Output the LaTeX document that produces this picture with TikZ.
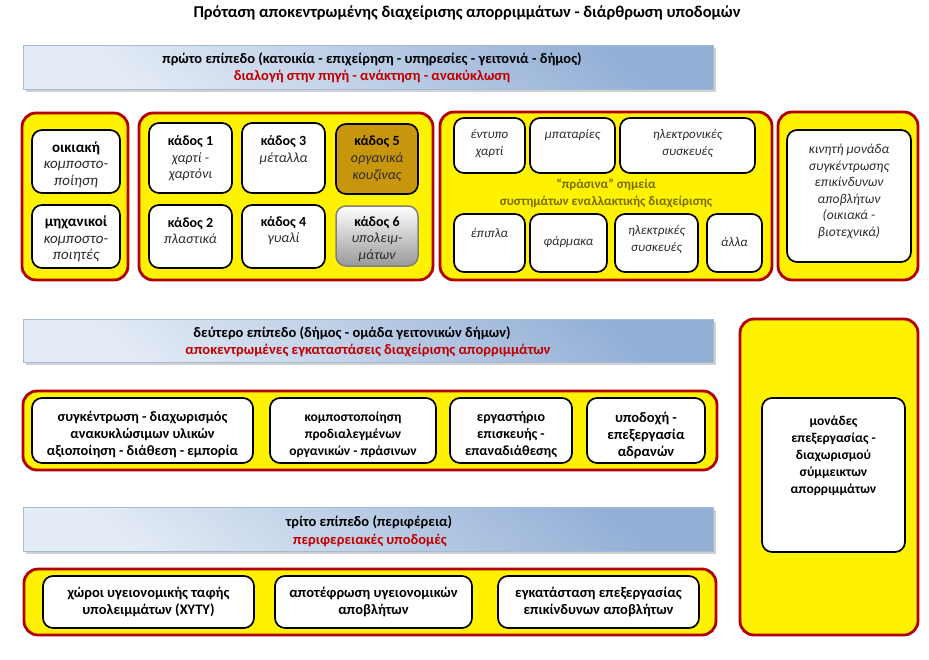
\documentclass[tikz,border=0pt]{standalone}
\usepackage{fontspec}
\setmainfont{Carlito}
\usetikzlibrary{shadows}
\definecolor{grpred}{HTML}{B00000}
\definecolor{txtred}{HTML}{C00000}
\definecolor{hdrdark}{HTML}{93AFD6}
\definecolor{hdrlight}{HTML}{E4ECF6}
\definecolor{hdrline}{HTML}{A6BAD6}
\definecolor{olivetxt}{HTML}{7A6C00}
\definecolor{kadosfive}{HTML}{C8960C}
\definecolor{itxt}{HTML}{2A2A2A}
\newcommand{\mkbox}[6]{\node[#1, minimum width={#5-#3}, minimum height={#6-#4}] (#2) at ({(#3+#5)/2},{(#4+#6)/2}) {};}
\newcommand{\ii}[1]{\textit{\color{itxt}#1}}
\begin{document}
\begin{tikzpicture}[x=1pt,y=-1pt,
  grp/.style={draw=grpred, fill=yellow, line width=2.8pt, rounded corners=14pt, inner sep=0pt},
  ibox/.style={draw=black, fill=white, line width=1.7pt, rounded corners=10pt, inner sep=0pt},
  kfive/.style={ibox, fill=kadosfive},
  ksix/.style={ibox, draw=black!50, top color=white, bottom color=black!40, line width=1.5pt},
  hdr/.style={draw=hdrline, line width=0.6pt, top color=hdrdark, bottom color=hdrlight, shading angle=-40, inner sep=0pt,
     drop shadow={shadow xshift=2.5pt, shadow yshift=-2.5pt, fill=black!40, opacity=0.45}},
  txt/.style={align=center, inner sep=0pt, font=\fontsize{#1}{16.6}\selectfont},
  txt/.default=13,
  btxt/.style={align=center, inner sep=0pt, font=\fontsize{#1}{17}\selectfont\bfseries},
  btxt/.default=13,
  htxt/.style={inner sep=0pt, font=\fontsize{14.5}{17}\selectfont\bfseries},
  it/.style={align=center, inner sep=0pt, font=\fontsize{#1}{16.6}\selectfont\itshape, text=itxt},
  it/.default=13,
]
\useasboundingbox (0,0) rectangle (929,659);
\fill[white] (0,0) rectangle (929,659);

% title
\node[inner sep=0pt, font=\fontsize{16.5}{19}\selectfont\bfseries] (title) at (467,13) {Πρόταση αποκεντρωμένης διαχείρισης απορριμμάτων - διάρθρωση υποδομών};

% ---------- level 1 ----------
\mkbox{hdr}{h1}{23}{45}{713}{89}
\node[htxt] (h1a) at (372,59) {πρώτο επίπεδο (κατοικία - επιχείρηση - υπηρεσίες - γειτονιά - δήμος)};
\node[htxt, text=txtred] (h1b) at (372,76) {διαλογή στην πηγή - ανάκτηση - ανακύκλωση};

\mkbox{grp}{gA}{22}{113}{128}{280}
\mkbox{grp}{gB}{139}{113}{433}{280}
\mkbox{grp}{gC}{440}{112}{772}{280}
\mkbox{grp}{gD}{778}{112}{918}{280}

% group A
\mkbox{ibox}{a1}{32}{130}{120}{193}
\mkbox{ibox}{a2}{32}{205}{120}{268}
\node[txt=15] (ta1) at (76,164.5) {\textbf{οικιακή}\\\ii{κομποστο-}\\\ii{ποίηση}};
\node[txt=15] (ta2) at (76,239) {\textbf{μηχανικοί}\\\ii{κομποστο-}\\\ii{ποιητές}};

% group B
\mkbox{ibox}{k1}{149}{123}{232}{193}
\mkbox{ibox}{k3}{242}{123}{325}{193}
\mkbox{kfive}{k5}{336}{124}{418}{194}
\mkbox{ibox}{k2}{149}{205}{232}{268}
\mkbox{ibox}{k4}{242}{205}{325}{268}
\mkbox{ksix}{k6}{336}{206}{418}{266}
\node[txt=14] (tk1) at (190.5,158.5) {\textbf{κάδος 1}\\\ii{χαρτί -}\\\ii{χαρτόνι}};
\node[txt=14] (tk3) at (283.5,150) {\textbf{κάδος 3}\\\ii{μέταλλα}};
\node[txt=14] (tk5) at (377,158.5) {\textbf{κάδος 5}\\\ii{οργανικά}\\\ii{κουζίνας}};
\node[txt=14] (tk2) at (190.5,230.5) {\textbf{κάδος 2}\\\ii{πλαστικά}};
\node[txt=14] (tk4) at (283.5,230.5) {\textbf{κάδος 4}\\\ii{γυαλί}};
\node[txt=14] (tk6) at (377,239) {\textbf{κάδος 6}\\\ii{υπολειμ-}\\\ii{μάτων}};

% group C
\mkbox{ibox}{c1}{454}{118}{525}{173}
\mkbox{ibox}{c2}{530}{118}{615}{173}
\mkbox{ibox}{c3}{620}{118}{755}{173}
\mkbox{ibox}{c4}{454}{214}{525}{272}
\mkbox{ibox}{c5}{530}{214}{607}{272}
\mkbox{ibox}{c6}{615}{214}{698}{272}
\mkbox{ibox}{c7}{707}{214}{762}{272}
\node[it] (tc1) at (489.5,143.5) {έντυπο\\χαρτί};
\node[it] (tc2) at (572.5,135) {μπαταρίες};
\node[it] (tc3) at (687.5,143.5) {ηλεκτρονικές\\συσκευές};
\node[btxt, text=olivetxt] (tcm) at (606,193.5) {“πράσινα” σημεία\\συστημάτων εναλλακτικής διαχείρισης};
\node[it] (tc4) at (489.5,233) {έπιπλα};
\node[it] (tc5) at (568.5,242) {φάρμακα};
\node[it] (tc6) at (656.5,239.5) {ηλεκτρικές\\συσκευές};
\node[it] (tc7) at (734.5,242) {άλλα};

% group D
\mkbox{ibox}{d1}{787}{130}{911}{262}
\node[it=13.5] (td1) at (849,191.5) {κινητή μονάδα\\συγκέντρωσης\\επικίνδυνων\\αποβλήτων\\(οικιακά -\\βιοτεχνικά)};

% ---------- level 2 ----------
\mkbox{hdr}{h2}{23}{319}{713}{362}
\node[htxt] (h2a) at (352,333) {δεύτερο επίπεδο (δήμος - ομάδα γειτονικών δήμων)};
\node[htxt, text=txtred] (h2b) at (368,351) {αποκεντρωμένες εγκαταστάσεις διαχείρισης απορριμμάτων};

\mkbox{grp}{g2}{23}{391}{717}{470}
\mkbox{ibox}{e1}{32}{398}{253}{463}
\mkbox{ibox}{e2}{270}{398}{436}{463}
\mkbox{ibox}{e3}{450}{398}{572}{463}
\mkbox{ibox}{e4}{587}{398}{705}{463}
\node[btxt=14.3] (te1) at (142.5,435) {συγκέντρωση - διαχωρισμός\\ανακυκλώσιμων υλικών\\αξιοποίηση - διάθεση - εμπορία};
\node[btxt=13.5] (te2) at (353,435) {κομποστοποίηση\\προδιαλεγμένων\\οργανικών - πράσινων};
\node[btxt=14] (te3) at (511,435) {εργαστήριο\\επισκευής -\\επαναδιάθεσης};
\node[btxt=14.5] (te4) at (646,435) {υποδοχή -\\επεξεργασία\\αδρανών};

% tall group
\mkbox{grp}{gT}{740}{319}{918}{635}
\mkbox{ibox}{t1}{762}{398}{905}{552}
\node[btxt=13.5] (tt1) at (833.5,456) {μονάδες\\επεξεργασίας -\\διαχωρισμού\\σύμμεικτων\\απορριμμάτων};

% ---------- level 3 ----------
\mkbox{hdr}{h3}{23}{507}{713}{551}
\node[htxt] (h3a) at (369,522) {τρίτο επίπεδο (περιφέρεια)};
\node[htxt, text=txtred] (h3b) at (370,540) {περιφερειακές υποδομές};

\mkbox{grp}{g3}{24}{569}{716}{635}
\mkbox{ibox}{f1}{43}{576}{254}{628}
\mkbox{ibox}{f2}{275}{576}{472}{628}
\mkbox{ibox}{f3}{498}{576}{699}{628}
\node[btxt=14.5] (tf1) at (148.5,601.5) {χώροι υγειονομικής ταφής\\υπολειμμάτων (ΧΥΤΥ)};
\node[btxt=14.5] (tf2) at (373.5,601.5) {αποτέφρωση υγειονομικών\\αποβλήτων};
\node[btxt=14.5] (tf3) at (598.5,601.5) {εγκατάσταση επεξεργασίας\\επικίνδυνων αποβλήτων};
\end{tikzpicture}
\end{document}
